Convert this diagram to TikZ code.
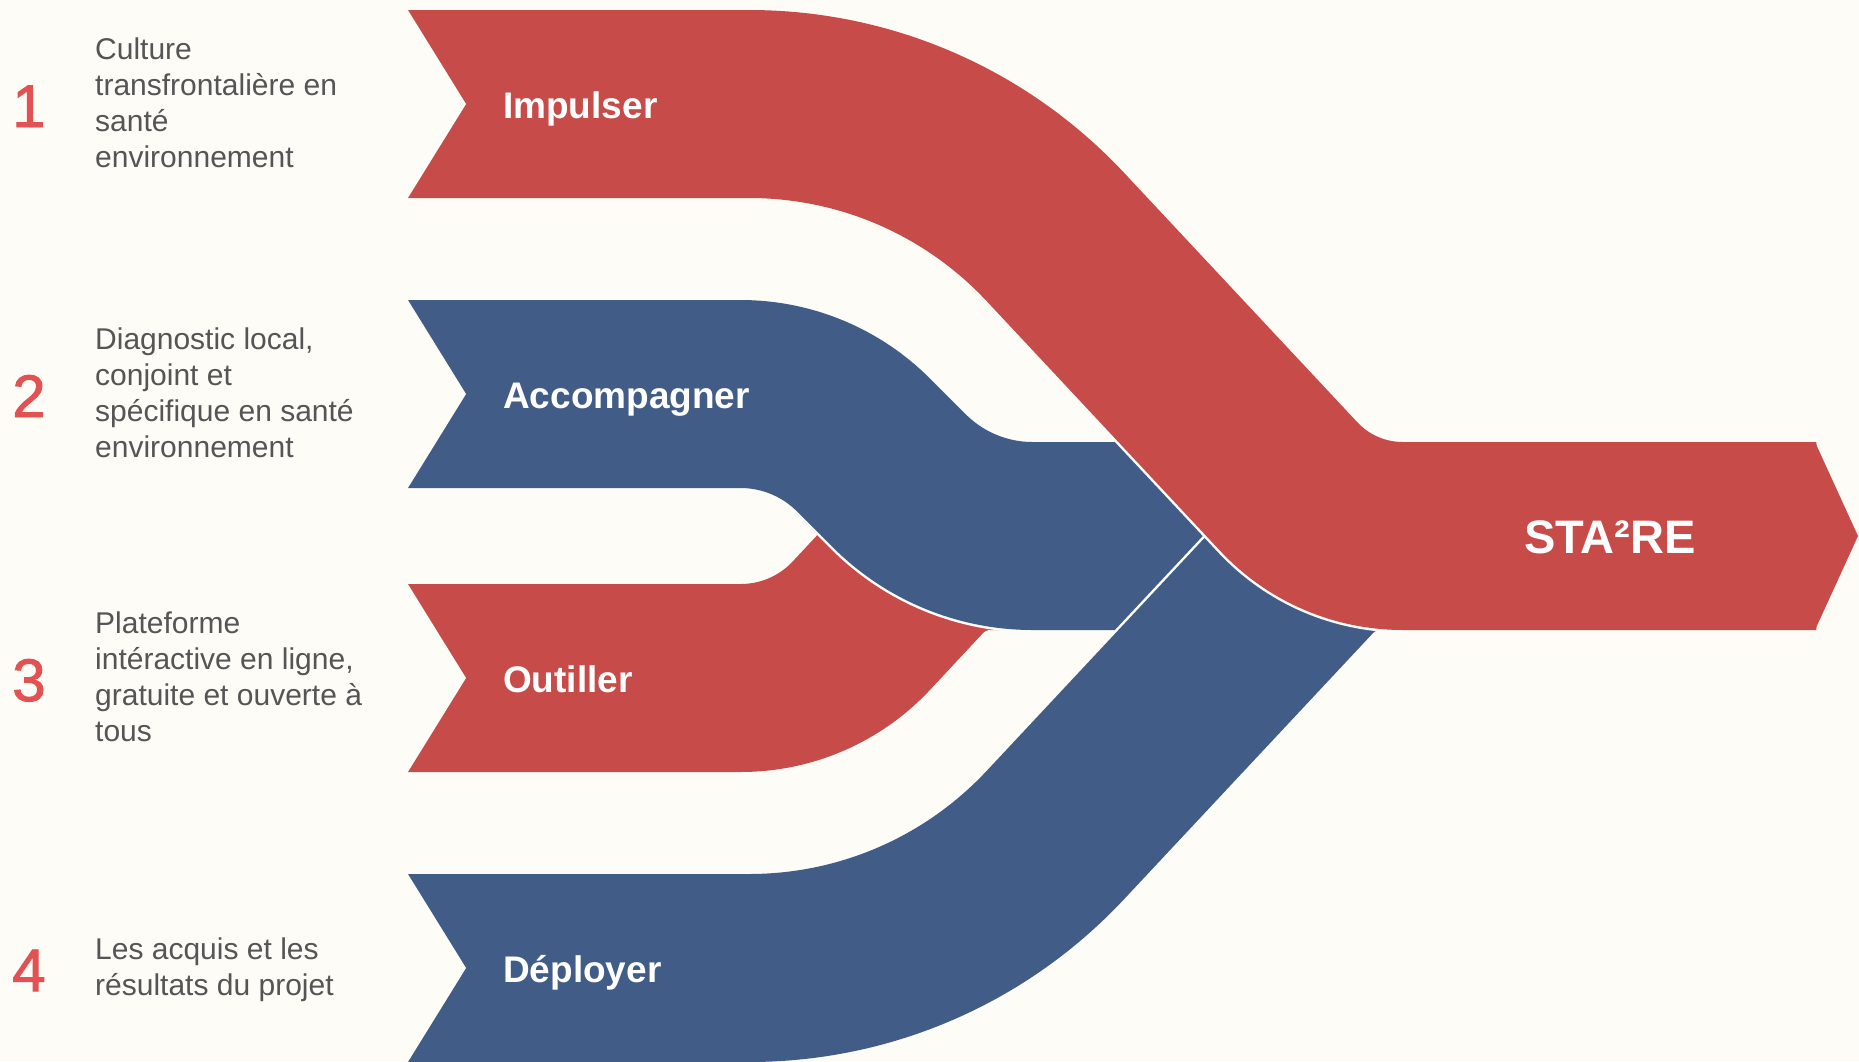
\documentclass[tikz,border=0pt]{standalone}
\usepackage{fontspec}
\setmainfont{Liberation Sans}
\newfontface\numfont{Liberation Sans}[FakeBold=1.6]
\definecolor{bg}{HTML}{FDFCF7}
\definecolor{bandred}{HTML}{C64B49}
\definecolor{bandblue}{HTML}{415C87}
\definecolor{numred}{HTML}{E25252}
\definecolor{txtgray}{HTML}{555555}
\begin{document}
\begin{tikzpicture}[x=1pt,y=-1pt,
  band/.style={draw=bg, line width=2.5pt, double distance=188pt, line cap=butt},
  redband/.style={band, double=bandred},
  blueband/.style={band, double=bandblue},
  notch/.style={fill=bg, draw=none},
  num/.style={anchor=base, inner sep=0pt, text=numred, font=\fontsize{60}{60}\numfont},
  desc/.style={anchor=north west, inner sep=0pt, align=left, text=txtgray, font=\fontsize{30}{36}\selectfont},
  lab/.style={anchor=base west, inner sep=0pt, text=white, font=\fontsize{37}{40}\selectfont\bfseries},
  biglab/.style={anchor=base west, inner sep=0pt, text=white, font=\fontsize{47}{50}\selectfont\bfseries}]
\useasboundingbox (0,0) rectangle (1859,1061);
\fill[bg] (0,0) rectangle (1859,1061);

% band 3 (Outiller)
\path[redband] (406,678) -- (740.5,678) .. controls (786.6,678) and (830.2,659.1) .. (861.6,625.4) -- (914.3,568.9) .. controls (933.9,547.8) and (961.2,536) .. (990,536) -- (1816,536);
% band 2 (Accompagner)
\path[blueband] (406,394) -- (740.5,394) .. controls (786.6,394) and (830.8,412.3) .. (863.4,444.9) -- (899.3,480.8) .. controls (934.6,516.1) and (982.6,536) .. (1032.5,536) -- (1816,536);
% band 4 (Deployer)
\path[blueband] (406,968) -- (749,968) .. controls (865.5,968) and (975.7,920.1) .. (1055.3,835.1) -- (1304.3,568.9) .. controls (1324.0,547.9) and (1351.2,536) .. (1380,536) -- (1816,536);
% band 1 (Impulser)
\path[redband] (406,104) -- (749,104) .. controls (865.5,104) and (975.7,151.9) .. (1055.3,236.9) -- (1288.6,486.4) .. controls (1318.3,518.2) and (1359.5,536) .. (1403,536) -- (1816,536);
% arrow tip
\fill[bandred] (1815,442) -- (1858,536) -- (1815,630) -- cycle;

% notches
\foreach \c in {104,394,678,968}{
  \fill[notch] (404,\c-97) -- (406,\c-97) -- (466,\c) -- (406,\c+97) -- (404,\c+97) -- cycle;
}

% numbers
\node[num] (n1) at (29,127) {1};
\node[num] (n2) at (29,417) {2};
\node[num] (n3) at (29,701) {3};
\node[num] (n4) at (29,991) {4};

% descriptions
\node[desc] (d1) at (95,38) {Culture\\transfrontalière en\\santé\\environnement};
\node[desc] (d2) at (95,328) {Diagnostic local,\\conjoint et\\spécifique en santé\\environnement};
\node[desc] (d3) at (95,612) {Plateforme\\intéractive en ligne,\\gratuite et ouverte à\\tous};
\node[desc] (d4) at (95,938) {Les acquis et les\\résultats du projet};

% band labels
\node[lab] (l1) at (503,118) {Impulser};
\node[lab] (l2) at (503,408) {Accompagner};
\node[lab] (l3) at (503,692) {Outiller};
\node[lab] (l4) at (503,982) {Déployer};
\node[biglab] (l5) at (1524,553) {STA²RE};
\end{tikzpicture}
\end{document}
